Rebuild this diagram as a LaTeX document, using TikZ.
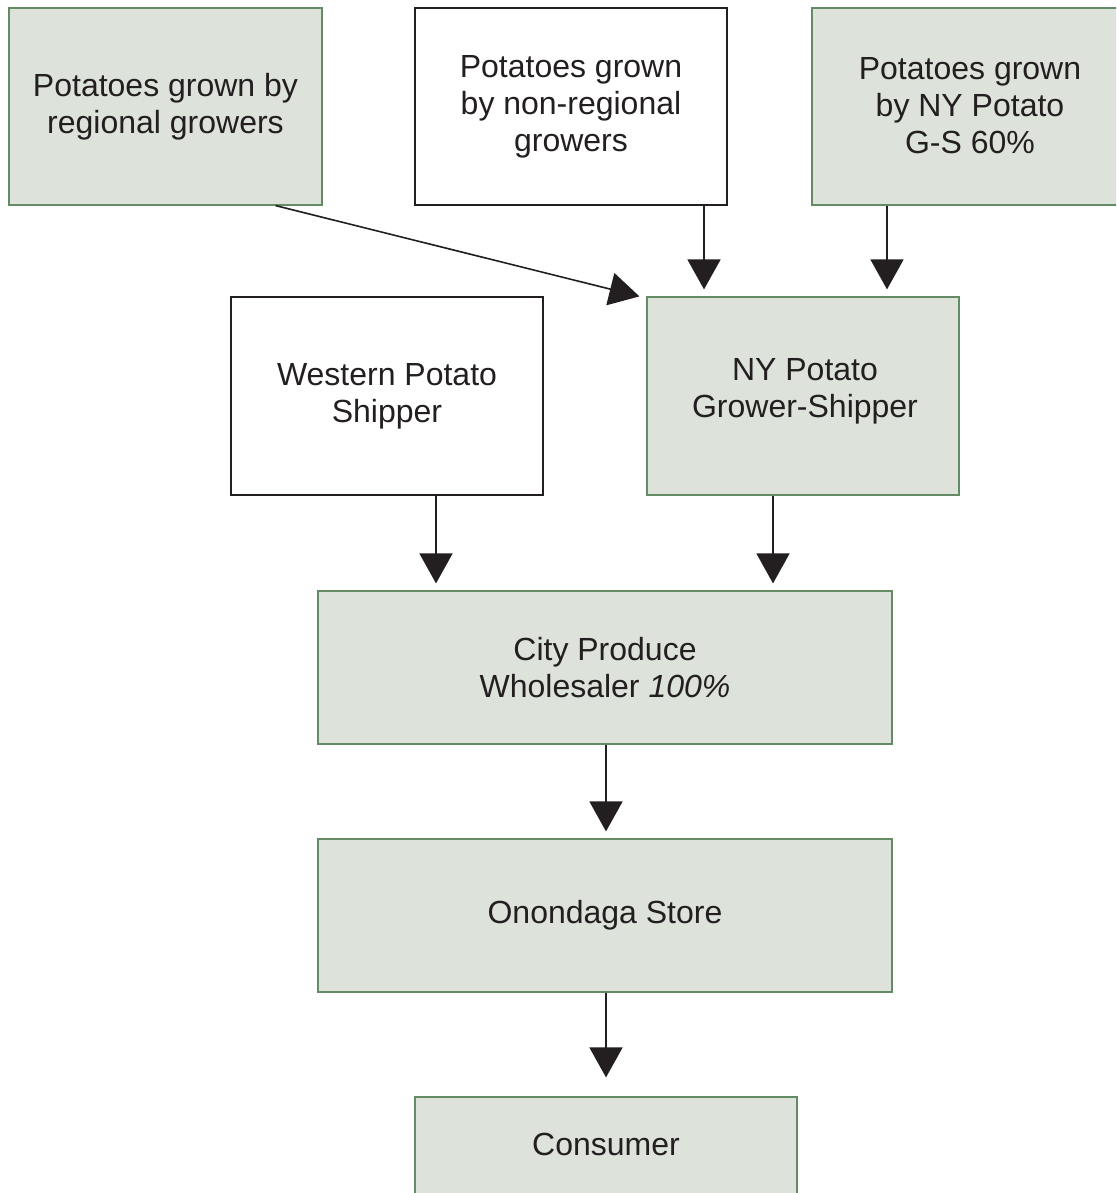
\documentclass[tikz,border=0pt]{standalone}
\usepackage{fontspec}
\setmainfont{Liberation Sans}
\usetikzlibrary{arrows.meta,calc}
\definecolor{boxfill}{RGB}{221,226,219}
\definecolor{boxline}{RGB}{100,140,100}
\definecolor{ink}{RGB}{35,31,32}
\begin{document}
\begin{tikzpicture}[x=1pt,y=-1pt,
  base/.style={rectangle,inner sep=0pt,align=center,text=ink,
    font=\fontsize{32}{37}\selectfont,line width=1.2pt},
  greenbox/.style={base,draw=boxline,fill=boxfill},
  whitebox/.style={base,draw=ink,fill=white},
  flow/.style={draw=ink,line width=1.6pt,shorten >=7pt,-{Triangle[width=33pt,length=30pt]}}]
\useasboundingbox (0,0) rectangle (1116,1193);
\clip (0,0) rectangle (1116,1193);
\node[greenbox,minimum width=313pt,minimum height=197pt] (a) at (165.5,106.5) {Potatoes grown by\\regional growers};
\node[whitebox,minimum width=312pt,minimum height=197pt] (b) at (571,106.5) {Potatoes grown\\by non-regional\\growers};
\node[greenbox,minimum width=310pt,minimum height=197pt] (c) at (967,106.5) {};
\node[base] (ct) at (970,106) {Potatoes grown\\by NY Potato\\G-S 60\%};
\node[whitebox,minimum width=312pt,minimum height=198pt] (d) at (387,396) {Western Potato\\Shipper};
\node[greenbox,minimum width=312pt,minimum height=198pt] (e) at (803,396) {};
\node[base] (et) at (805,391) {NY Potato\\Grower-Shipper};
\node[greenbox,minimum width=574pt,minimum height=153pt] (f) at (605,667.5) {City Produce\\Wholesaler \textit{100\%}};
\node[greenbox,minimum width=574pt,minimum height=153pt] (g) at (605,915.5) {Onondaga Store};
\node[greenbox,minimum width=382pt,minimum height=110pt] (h) at (606,1152) {};
\node[base] (ht) at (606,1144) {Consumer};
\draw[flow,shorten >=0pt] ([xshift=-47pt]a.south east) -- ([xshift=-7pt]e.north west);
\draw[flow] ([xshift=133pt]b.south) -- ([xshift=-99pt]e.north);
\draw[flow] ([xshift=-80pt]c.south) -- ([xshift=84pt]e.north);
\draw[flow] ([xshift=49pt]d.south) -- ([xshift=-169pt]f.north);
\draw[flow] ([xshift=-30pt]e.south) -- ([xshift=168pt]f.north);
\draw[flow] ([xshift=1pt]f.south) -- ([xshift=1pt]g.north);
\draw[flow,shorten >=19pt] ([xshift=1pt]g.south) -- (h.north);
\end{tikzpicture}
\end{document}
